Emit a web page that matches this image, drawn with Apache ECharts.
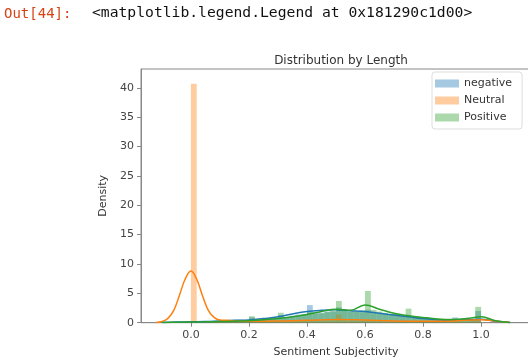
<!DOCTYPE html>
<html>
<head>
<meta charset="utf-8">
<script src="https://cdn.jsdelivr.net/npm/echarts@6/dist/echarts.min.js"></script>
<style>
  html, body { margin: 0; padding: 0; background: #fff; }
  #main { width: 528px; height: 360px; }
</style>
</head>
<body>
<div id="main"></div>
<script>
// histogram bins: width 0.02 starting at 0.00
var binStart = 0, binWidth = 0.02;
var negativeHist = [0.2,0.1,0.2,0.2,0.3,0.3,0.4,0.4,0.5,0.5,
                    0.9,0.6,0.7,0.8,0.9,1.3,1.0,1.2,1.4,1.5,
                    3.0,1.8,1.7,1.9,1.9,2.6,2.0,1.9,1.9,1.8,
                    2.2,1.7,1.5,1.5,1.3,1.4,1.1,1.2,0.9,0.8,
                    0.8,0.6,0.5,0.5,0.4,0.9,0.4,0.4,0.5,2.0];
var neutralHist  = [40.7,0.2,0.2,0.2,0.3,0.2,0.2,0.2,0.2,0.2,
                    0.3,0.2,0.2,0.2,0.3,0.3,0.2,0.3,0.3,0.3,
                    0.4,0.3,0.3,0.3,0.4,1.4,0.4,0.3,0.3,0.3,
                    0.5,0.3,0.3,0.2,0.3,0.2,0.2,0.3,0.2,0.2,
                    0.2,0.2,0.2,0.2,0.2,0.3,0.2,0.2,0.3,0.6];
var positiveHist = [0.2,0.1,0.1,0.2,0.2,0.2,0.2,0.3,0.3,0.3,
                    1.1,0.4,0.5,0.6,0.7,1.7,0.9,1.0,1.1,1.3,
                    1.8,1.5,1.6,1.8,2.0,3.7,2.0,1.9,1.9,2.1,
                    5.4,2.2,1.9,1.7,1.5,1.5,1.3,2.4,1.1,0.9,
                    0.9,0.7,0.6,0.5,0.5,0.6,0.5,0.5,0.6,2.7];

// kde curves
var kdeX = [-0.1,-0.05,0,0.05,0.1,0.15,0.2,0.25,0.3,0.35,0.4,0.45,0.5,0.55,0.6,0.65,0.7,0.75,0.8,0.85,0.9,0.95,1.0,1.05,1.1];
var negativeKde = [0.05,0.1,0.15,0.2,0.3,0.4,0.45,0.7,1.0,1.5,1.9,2.1,2.2,2.05,1.9,1.6,1.3,1.0,0.7,0.5,0.45,0.5,0.6,0.25,0.05];
var positiveKde = [0.03,0.08,0.12,0.15,0.2,0.25,0.35,0.5,0.7,1.0,1.4,1.9,2.3,2.1,3.0,2.3,1.6,1.2,0.9,0.65,0.55,0.7,1.0,0.35,0.05];
var neutralKdeX = [-0.12,-0.1,-0.08,-0.06,-0.04,-0.02,0,0.02,0.04,0.06,0.08,0.1,0.12,0.15,0.2,0.3,0.4,0.5,0.6,0.7,0.8,0.9,1.0,1.05,1.1];
var neutralKde  = [0.05,0.2,0.7,2.0,4.6,7.4,8.8,7.4,4.6,2.1,0.9,0.45,0.4,0.3,0.25,0.3,0.4,0.55,0.45,0.3,0.25,0.3,0.5,0.3,0.05];

var xTicks = [0, 0.2, 0.4, 0.6, 0.8, 1.0];
var yTicks = [0, 5, 10, 15, 20, 25, 30, 35, 40];

var chart = echarts.init(document.getElementById('main'));

function histData(arr) {
    return arr.map(function(h, i) {
        var x0 = binStart + i * binWidth;
        return [x0, x0 + binWidth, h];
    });
}
function kdeData(xs, ys) {
    return xs.map(function(x, i) { return [x, ys[i]]; });
}
function renderBin(params, api) {
    var p0 = api.coord([api.value(0), 0]);
    var p1 = api.coord([api.value(1), api.value(2)]);
    return {
        type: 'rect',
        shape: { x: p0[0], y: p1[1], width: p1[0] - p0[0], height: p0[1] - p1[1] },
        style: api.style()
    };
}
function histSeries(name, color, arr) {
    return {
        name: name, type: 'custom', renderItem: renderBin,
        itemStyle: { color: color },
        encode: { x: [0, 1], y: 2 },
        data: histData(arr), silent: true
    };
}
function kdeSeries(name, color, xs, ys) {
    return {
        name: name + ' kde', type: 'line', smooth: 0.4, showSymbol: false,
        lineStyle: { color: color, width: 1.5 }, itemStyle: { color: color },
        data: kdeData(xs, ys), silent: true
    };
}

var axisGray = '#888';
var labelColor = '#444';

chart.setOption({
    animation: false,
    title: {
        text: 'Distribution by Length', left: 336, top: 50, textAlign: 'center',
        textStyle: { fontFamily: 'DejaVu Sans', fontSize: 12, fontWeight: 'normal', color: '#333' }
    },
    graphic: [
        { type: 'text', left: 4, top: 7, style: { text: 'Out[44]:', fontFamily: 'DejaVu Sans Mono', fontSize: 14, fill: '#d84315' } },
        { type: 'text', left: 92, top: 6, style: { text: '<matplotlib.legend.Legend at 0x181290c1d00>', fontFamily: 'DejaVu Sans Mono', fontSize: 14.7, fill: '#111' } }
    ],
    legend: {
        data: ['negative', 'Neutral', 'Positive'],
        orient: 'vertical', left: 432, top: 72,
        icon: 'rect', itemWidth: 24, itemHeight: 8, itemGap: 6,
        padding: [6, 10, 6, 3],
        backgroundColor: 'rgba(255,255,255,0.8)', borderColor: '#ddd', borderWidth: 1, borderRadius: 3,
        textStyle: { fontFamily: 'DejaVu Sans', fontSize: 11, color: '#333' }
    },
    grid: { left: 141, top: 69, width: 390, height: 253.7, outerBoundsMode: 'none',
        show: true, borderColor: axisGray, borderWidth: 1 },
    xAxis: {
        type: 'value', min: -0.172, max: 1.172,
        name: 'Sentiment Subjectivity', nameLocation: 'middle', nameGap: 24,
        nameTextStyle: { fontFamily: 'DejaVu Sans', fontSize: 11, color: '#333' },
        axisLine: { onZero: false, lineStyle: { color: axisGray } },
        axisTick: { show: true, length: 4, lineStyle: { color: axisGray }, customValues: xTicks },
        axisLabel: { customValues: xTicks, margin: 7, fontFamily: 'DejaVu Sans', fontSize: 11, color: labelColor,
            formatter: function(v) { return v.toFixed(1); } },
        splitLine: { show: false }
    },
    yAxis: {
        type: 'value', min: 0, max: 43.2,
        name: 'Density', nameLocation: 'middle', nameGap: 30,
        nameTextStyle: { fontFamily: 'DejaVu Sans', fontSize: 11, color: '#333' },
        axisLine: { show: true, onZero: false, lineStyle: { color: axisGray } },
        axisTick: { show: true, length: 4, lineStyle: { color: axisGray }, customValues: yTicks },
        axisLabel: { customValues: yTicks, margin: 7, fontFamily: 'DejaVu Sans', fontSize: 11, color: labelColor },
        splitLine: { show: false }
    },
    series: [
        histSeries('negative', 'rgba(31,119,180,0.4)', negativeHist),
        kdeSeries('negative', '#1f77b4', kdeX, negativeKde),
        histSeries('Neutral', 'rgba(255,127,14,0.4)', neutralHist),
        kdeSeries('Neutral', '#ff7f0e', neutralKdeX, neutralKde),
        histSeries('Positive', 'rgba(44,160,44,0.4)', positiveHist),
        kdeSeries('Positive', '#2ca02c', kdeX, positiveKde)
    ]
});
</script>
</body>
</html>
